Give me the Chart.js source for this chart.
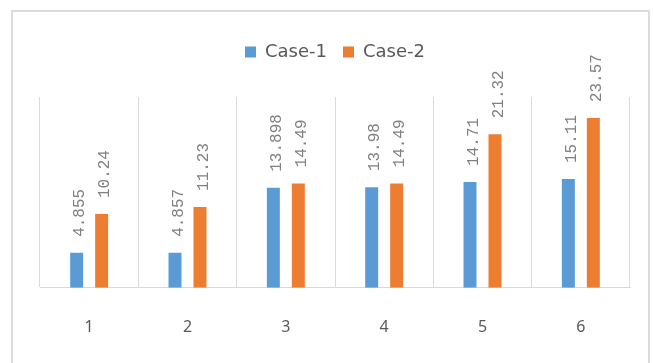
<!DOCTYPE html>
<html>
<head>
<meta charset="utf-8">
<script src="https://cdn.jsdelivr.net/npm/chart.js@4"></script>
<style>
  html, body { margin: 0; padding: 0; background: #ffffff; }
  #wrap { width: 653px; height: 363px; position: relative; }
</style>
</head>
<body>
<div id="wrap"><canvas id="chart" width="653" height="363"></canvas></div>
<script>
// Category labels along the x axis
const categories = ['1', '2', '3', '4', '5', '6'];
// Series values
const case1 = [4.855, 4.857, 13.898, 13.98, 14.71, 15.11];
const case2 = [10.24, 11.23, 14.49, 14.49, 21.32, 23.57];
const seriesNames = ['Case-1', 'Case-2'];

// Light frame around the whole chart
const framePlugin = {
  id: 'frame',
  beforeDraw(chart) {
    const ctx = chart.ctx;
    ctx.save();
    ctx.fillStyle = '#ffffff';
    ctx.fillRect(0, 0, chart.width, chart.height);
    ctx.strokeStyle = '#dcdcdc';
    ctx.lineWidth = 2;
    ctx.strokeRect(12, 11, 637, 360);
    ctx.restore();
  }
};

// Vertical value labels above each bar
const valueLabels = {
  id: 'valueLabels',
  afterDatasetsDraw(chart) {
    const ctx = chart.ctx;
    ctx.save();
    ctx.font = '16px "Liberation Mono"';
    ctx.fillStyle = '#808080';
    ctx.textAlign = 'left';
    ctx.textBaseline = 'middle';
    chart.data.datasets.forEach((ds, i) => {
      const meta = chart.getDatasetMeta(i);
      meta.data.forEach((bar, j) => {
        ctx.save();
        ctx.translate(bar.x + 3.5, bar.y - 16);
        ctx.rotate(-Math.PI / 2);
        ctx.fillText(String(ds.data[j]), 0, 0);
        ctx.restore();
      });
    });
    ctx.restore();
  }
};

new Chart(document.getElementById('chart'), {
  type: 'bar',
  data: {
    labels: categories,
    datasets: [
      { label: seriesNames[0], data: case1, backgroundColor: '#5b9bd5' },
      { label: seriesNames[1], data: case2, backgroundColor: '#ed7d31' }
    ]
  },
  options: {
    responsive: false,
    animation: false,
    devicePixelRatio: 1,
    layout: { padding: { left: 40, right: 23, top: 27, bottom: -4 } },
    datasets: {
      bar: { categoryPercentage: 0.508, barPercentage: 0.52 }
    },
    plugins: {
      legend: {
        position: 'top',
        weight: 1000,
        labels: {
          boxWidth: 11,
          boxHeight: 11,
          padding: 16,
          color: '#595959',
          font: { family: '"DejaVu Sans"', size: 18 }
        }
      },
      // empty title used as a gap between the legend and the plot
      title: {
        display: true,
        text: '',
        weight: 500,
        padding: { top: 14, bottom: 0 },
        font: { size: 10 }
      },
      tooltip: { enabled: false }
    },
    scales: {
      x: {
        grid: { display: true, offset: true, drawTicks: false, color: '#d9d9d9', lineWidth: 1 },
        border: { display: true, color: '#d9d9d9', width: 1 },
        ticks: {
          padding: 30,
          color: '#595959',
          font: { family: '"Noto Sans"', size: 16 }
        }
      },
      y: {
        display: false,
        min: 0,
        max: 26.5
      }
    }
  },
  plugins: [framePlugin, valueLabels]
});
</script>
</body>
</html>
